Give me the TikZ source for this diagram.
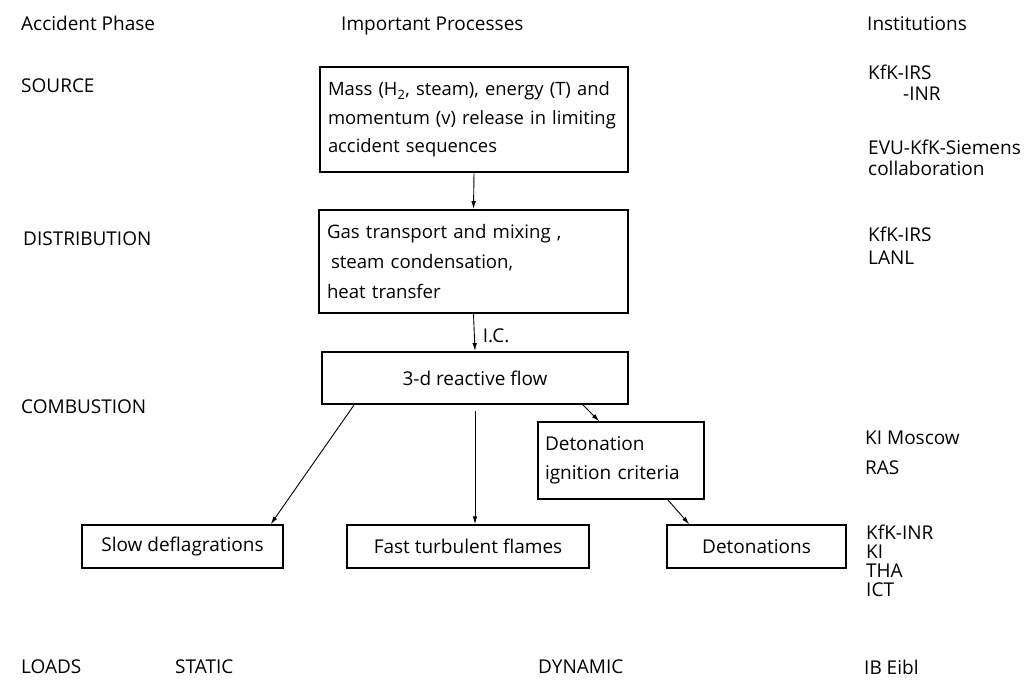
\documentclass[tikz,border=0pt]{standalone}
\usepackage{fontspec}
\setmainfont{Open Sans}
\usetikzlibrary{arrows.meta}

\begin{document}
\begin{tikzpicture}[x=1pt, y=-1pt,
  txt/.style={anchor=base west, inner sep=0pt, font=\fontsize{19}{23}\selectfont},
  procbox/.style={draw, line width=\procBoxLineWidth, align=left, inner xsep=8pt, inner ysep=0pt,
    font=\fontsize{18.4}{28.5}\selectfont},
  loadbox/.style={draw, line width=\loadBoxLineWidth, align=center, inner sep=0pt,
    minimum height=43pt, font=\fontsize{19}{23}\selectfont},
  flowarrow/.style={-{Latex[length=8pt,width=4.5pt]}, line width=\arrowLineWidth}]
% sizes in px of the 1024x680 sheet
\providecommand{\procBoxLineWidth}{1.8pt}
\providecommand{\loadBoxLineWidth}{1.3pt}
\providecommand{\arrowLineWidth}{0.9pt}
\useasboundingbox (0,0) rectangle (1024,680);
% Column heads
\node[txt] (headPhase) at (21,30) {Accident Phase};
\node[txt] (headProc) at (341,30) {Important Processes};
\node[txt] (headInst) at (867,30) {Institutions};
% Accident phases
\node[txt] (phSource) at (21,92) {SOURCE};
\node[txt] (phDistr) at (23,245) {DISTRIBUTION};
\node[txt] (phComb) at (21,413) {COMBUSTION};
\node[txt] (phLoads) at (21,673) {LOADS};
\node[txt] (ldStatic) at (175,673) {STATIC};
\node[txt] (ldDynamic) at (538,673) {DYNAMIC};
% Institutions
\node[txt] (inKfkIrs) at (868,79) {KfK-IRS};
\node[txt] (inKfkInr) at (903,100) {-INR};
\node[txt] (inEvu) at (868,154) {EVU-KfK-Siemens};
\node[txt] (inCollab) at (868,175) {collaboration};
\node[txt] (inKfkIrsB) at (868,241) {KfK-IRS};
\node[txt] (inLanl) at (868,264) {LANL};
\node[txt] (inKiMoscow) at (865,444) {KI Moscow};
\node[txt] (inRas) at (865,474) {RAS};
\node[txt] (inKfkInrB) at (866,539) {KfK-INR};
\node[txt] (inKi) at (866,558) {KI};
\node[txt] (inTha) at (866,577) {THA};
\node[txt] (inIct) at (866,596) {ICT};
\node[txt] (inIbEibl) at (864,674) {IB Eibl};
% Process boxes
\node[procbox, minimum width=308pt, minimum height=105pt, text width=292pt] (src) at (474,119.5)
  {\mbox{Mass (H\textsubscript{2}, steam), energy (T) and}\\
   \mbox{momentum (v) release in limiting}\\
   \mbox{accident sequences}};
\node[procbox, minimum width=309pt, minimum height=103pt, text width=293pt,
  font=\fontsize{18.6}{30}\selectfont] (dist) at (473.5,261.5)
  {\mbox{Gas transport and mixing ,}\\
   \mbox{\hspace*{4pt}steam condensation,}\\
   \mbox{heat transfer}};
\node[procbox, minimum width=306pt, minimum height=52pt, align=center,
  font=\fontsize{19}{23}\selectfont] (flow) at (475,378)
  {3-d reactive flow};
\node[procbox, line width=\loadBoxLineWidth, minimum width=166pt, minimum height=77pt,
  inner xsep=7pt, text width=152pt, font=\fontsize{19}{28.5}\selectfont] (crit) at (621,460.5)
  {Detonation\\ignition criteria};
% Combustion modes
\node[loadbox, minimum width=201pt] (slow) at (182.5,546.5) {Slow deflagrations};
\node[loadbox, minimum width=242pt] (fast) at (468,546.5) {Fast turbulent flames};
\node[loadbox, minimum width=179pt] (deto) at (756.5,546.5) {Detonations};
% Arrows
\draw[flowarrow] (src.south) -- (dist.north);
\draw[flowarrow] (dist.south) -- node[right=8pt, pos=0.6, inner sep=0pt,
  font=\fontsize{19}{23}\selectfont] (ic) {I.C.} (flow.north);
\draw[flowarrow] ([xshift=33pt]flow.south west) -- ([xshift=-13pt]slow.north east);
\draw[flowarrow] ([yshift=-6pt]flow.south) -- (flow.south |- fast.north);
\draw[flowarrow] ([xshift=-46pt]flow.south east) -- ([xshift=62pt]crit.north west);
\draw[flowarrow] ([xshift=-37pt]crit.south east) -- ([xshift=23pt]deto.north west);
\end{tikzpicture}
\end{document}
